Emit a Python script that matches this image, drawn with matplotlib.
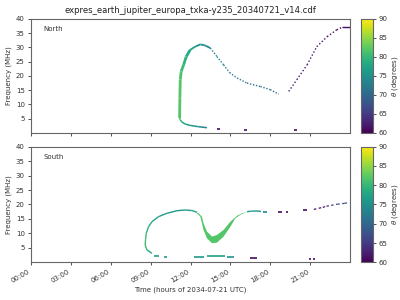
import numpy as np
import matplotlib
matplotlib.use("Agg")
import matplotlib.pyplot as plt
from matplotlib.collections import LineCollection
from matplotlib.colors import Normalize
from matplotlib.cm import ScalarMappable

TITLE = "expres_earth_jupiter_europa_txka-y235_20340721_v14.cdf"
xtick_hours = [0, 3, 6, 9, 12, 15, 18, 21]
xtick_labels = ["00:00", "03:00", "06:00", "09:00", "12:00", "15:00", "18:00", "21:00"]
ytick_vals = [5, 10, 15, 20, 25, 30, 35, 40]
cbar_ticks = [60, 65, 70, 75, 80, 85, 90]

# ---------------- North ----------------
n_main_h = [11.18, 11.20, 11.23, 11.30, 11.48, 11.68, 11.98]
n_main_f = [5.2, 12.0, 18.7, 21.6, 23.9, 26.8, 29.2]
n_main_t = [82, 82, 82, 81, 80, 79, 78]

n_arc_h = [11.98, 12.36, 12.74, 13.11, 13.49]
n_arc_f = [29.2, 30.3, 31.1, 30.7, 29.8]
n_arc_t = [78, 76, 75, 75, 74]

n_desc_h = [13.49, 13.99, 14.49, 14.94, 15.50, 16.25, 17.26, 18.00, 18.64]
n_desc_f = [29.8, 26.8, 23.9, 21.2, 19.3, 17.5, 16.3, 15.2, 13.6]
n_desc_t = [74, 74, 73, 73, 72, 72, 71, 71, 70]

n_low_h = [11.18, 11.23, 11.35, 11.60, 11.98, 12.61, 13.24]
n_low_f = [5.2, 4.65, 3.85, 3.15, 2.66, 2.2, 1.86]
n_low_t = [82, 80, 79, 77, 76, 75, 73]

n_rise_h = [19.39, 20.00, 20.77, 21.50, 22.28, 23.00, 23.40]
n_rise_f = [14.6, 18.7, 23.9, 30.3, 33.8, 36.2, 37.1]
n_rise_t = [63, 62, 62, 62, 61, 61, 61]

n_top_h = [23.40, 24.00]
n_top_f = [37.1, 37.1]
n_top_t = [61, 61]

n_dash_h0 = [14.00, 16.00, 19.80]
n_dash_h1 = [14.25, 16.25, 20.05]
n_dash_f = [1.4, 1.2, 1.2]
n_dash_t = [61, 61, 61]

# ---------------- South ----------------
s_loop_h = [9.10, 8.72, 8.59, 8.62, 8.67, 8.84, 9.10, 9.60, 10.22, 10.98, 11.60, 12.10, 12.50]
s_loop_f = [3.1, 4.3, 6.0, 8.0, 10.0, 12.3, 14.05, 15.8, 16.95, 17.85, 18.1, 17.9, 17.3]
s_loop_t = [78, 79, 81, 81, 80, 79, 78, 77, 76, 76, 76, 77, 79]

s_band_h = [12.11, 12.61, 12.86, 12.98, 13.24, 13.62, 13.99, 14.49, 15.00, 15.50, 15.88, 16.25,
            15.75, 15.37, 15.00, 14.49, 13.99, 13.62, 13.24, 12.98, 12.74, 12.40]
s_band_f = [17.75, 16.95, 15.8, 13.5, 10.6, 8.9, 9.45, 11.2, 14.05, 16.1, 16.95, 17.5,
            16.4, 15.2, 12.3, 8.9, 6.8, 6.6, 8.3, 11.2, 15.8, 17.3]
s_band_t = 82

s_right_h = [16.25, 16.60, 17.00, 17.30]
s_right_f = [17.5, 17.7, 17.75, 17.6]
s_right_t = [77, 76, 76, 75]

s_tail_h = [21.28, 21.65, 21.95, 22.23, 22.58, 23.04, 23.59, 23.96]
s_tail_f = [18.3, 18.7, 19.0, 19.4, 19.7, 20.1, 20.4, 20.75]
s_tail_t = [61, 61, 62, 63, 65, 66, 67, 68]

s_dash_h0 = [9.22, 9.97, 12.24, 13.24, 14.75, 16.50, 17.45, 18.60, 19.20, 20.50, 20.93, 21.23]
s_dash_h1 = [9.60, 10.20, 12.99, 14.62, 15.25, 17.00, 17.75, 18.90, 19.35, 20.80, 21.03, 21.33]
s_dash_f = [2.1, 1.8, 1.73, 2.2, 1.8, 1.5, 17.3, 17.3, 17.5, 18.0, 1.15, 1.15]
s_dash_t = [77, 76, 76, 77, 75, 61, 74, 61, 61, 61, 61, 61]

cmap = plt.get_cmap("viridis")
norm = Normalize(60, 90)
TXT = "#333333"


def draw_track(ax, h, f, th, lw, ls="-"):
    pts = np.column_stack([h, f])
    segs = np.stack([pts[:-1], pts[1:]], axis=1)
    th = np.asarray(th, float)
    lc = LineCollection(segs, cmap=cmap, norm=norm, linewidths=lw,
                        linestyles=ls, capstyle="butt")
    lc.set_array((th[:-1] + th[1:]) / 2)
    ax.add_collection(lc)


def draw_dashes(ax, h0, h1, f, th, lw=1.2):
    ax.hlines(f, h0, h1, colors=cmap(norm(np.asarray(th, float))), linewidth=lw)


fig = plt.figure(figsize=(4, 3), dpi=100)
ax1 = fig.add_axes([0.0775, 0.5567, 0.7975, 0.38])
ax2 = fig.add_axes([0.0775, 0.1257, 0.7975, 0.3853])
cax1 = fig.add_axes([0.9025, 0.5567, 0.03, 0.38])
cax2 = fig.add_axes([0.9025, 0.1257, 0.03, 0.3853])

# North
draw_track(ax1, n_main_h, n_main_f, n_main_t, 2.0)
draw_track(ax1, n_arc_h, n_arc_f, n_arc_t, 1.3)
draw_track(ax1, n_desc_h, n_desc_f, n_desc_t, 1.0, (0, (1, 1.2)))
draw_track(ax1, n_low_h, n_low_f, n_low_t, 1.1)
draw_track(ax1, n_rise_h, n_rise_f, n_rise_t, 1.0, (0, (1, 1.5)))
draw_track(ax1, n_top_h, n_top_f, n_top_t, 1.0)
draw_dashes(ax1, n_dash_h0, n_dash_h1, n_dash_f, n_dash_t)

# South
draw_track(ax2, s_loop_h, s_loop_f, s_loop_t, 1.0)
ax2.fill(s_band_h, s_band_f, color=cmap(norm(s_band_t)), lw=0)
draw_track(ax2, s_right_h, s_right_f, s_right_t, 1.0)
draw_track(ax2, s_tail_h, s_tail_f, s_tail_t, 0.9, (0, (2, 2)))
draw_dashes(ax2, s_dash_h0, s_dash_h1, s_dash_f, s_dash_t)

for ax, name in [(ax1, "North"), (ax2, "South")]:
    ax.set_xlim(0, 24)
    ax.set_ylim(0, 40)
    ax.set_yticks(ytick_vals)
    ax.set_xticks(xtick_hours)
    ax.tick_params(labelsize=5, colors=TXT, length=2.5, width=0.6, pad=2)
    ax.set_ylabel("Frequency (MHz)", fontsize=5, color=TXT, labelpad=3)
    ax.text(0.038, 0.91, name, transform=ax.transAxes, fontsize=5, color=TXT,
            va="center", ha="left")
    for s in ax.spines.values():
        s.set_color("#666666")
        s.set_linewidth(0.8)

ax1.set_xticklabels([])
ax2.set_xticklabels(xtick_labels, rotation=30, ha="right")
ax2.set_xlabel("Time (hours of 2034-07-21 UTC)", fontsize=5, color=TXT, labelpad=2)
ax1.set_title(TITLE, fontsize=6.1, color="#222222", pad=4)

sm = ScalarMappable(norm=norm, cmap=cmap)
for cax in (cax1, cax2):
    cb = fig.colorbar(sm, cax=cax, ticks=cbar_ticks)
    cb.ax.tick_params(labelsize=5, colors=TXT, length=2.5, width=0.6, pad=1.5)
    cb.outline.set_edgecolor("#666666")
    cb.outline.set_linewidth(0.8)
    cb.set_label(r"$\theta$ (degrees)", fontsize=5, color=TXT, labelpad=2)

fig.savefig("out.png", dpi=100)
